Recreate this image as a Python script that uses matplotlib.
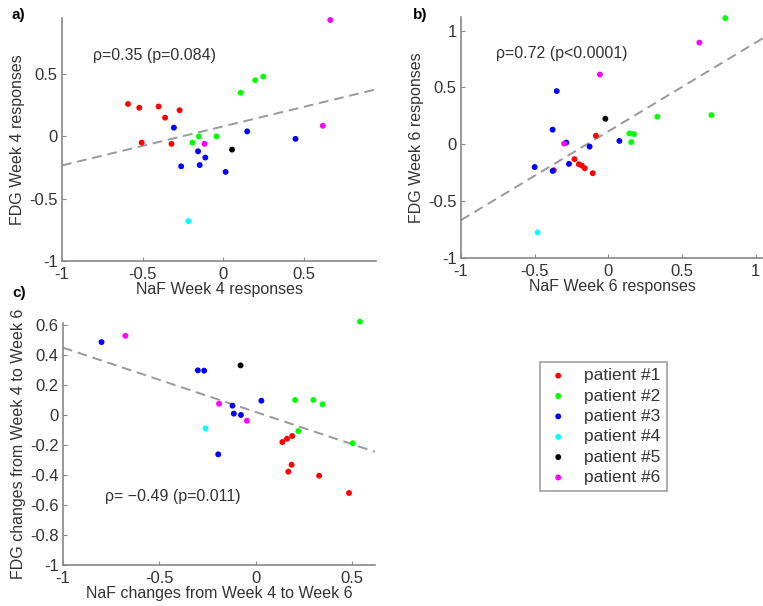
import numpy as np
import matplotlib
matplotlib.use("Agg")
import matplotlib.pyplot as plt

plt.rcParams['font.family'] = ['Liberation Sans', 'DejaVu Sans']

patients = ['patient #1', 'patient #2', 'patient #3', 'patient #4', 'patient #5', 'patient #6']
colors = ['#ff0000', '#00ff00', '#0000ff', '#00ffff', '#000000', '#ff00ff']

# panel a: week 4 responses (x = NaF, y = FDG), grouped by patient
a_x = [[-0.59, -0.52, -0.40, -0.36, -0.27, -0.505, -0.32],
       [0.11, 0.20, 0.25, -0.19, -0.15, -0.04],
       [-0.305, -0.155, -0.11, -0.145, -0.26, 0.016, 0.15, 0.45],
       [-0.215],
       [0.056],
       [-0.115, 0.62, 0.666]]
a_y = [[0.26, 0.23, 0.24, 0.15, 0.21, -0.05, -0.06],
       [0.35, 0.45, 0.48, -0.05, 0.0, 0.0],
       [0.07, -0.12, -0.17, -0.23, -0.24, -0.285, 0.04, -0.02],
       [-0.68],
       [-0.106],
       [-0.06, 0.085, 0.934]]

# panel b: week 6 responses
b_x = [[-0.23, -0.20, -0.18, -0.16, -0.106, -0.084, -0.37],
       [0.794, 0.70, 0.333, 0.143, 0.174, 0.156],
       [-0.35, -0.378, -0.285, -0.127, 0.075, -0.50, -0.378, -0.267],
       [-0.48],
       [-0.02],
       [0.618, -0.057, -0.30]]
b_y = [[-0.13, -0.175, -0.187, -0.21, -0.254, 0.076, -0.228],
       [1.11, 0.257, 0.243, 0.096, 0.09, 0.02],
       [0.468, 0.129, 0.015, -0.02, 0.03, -0.2, -0.234, -0.172],
       [-0.775],
       [0.225],
       [0.895, 0.614, 0.006]]

# panel c: changes from week 4 to week 6
c_x = [[0.139, 0.163, 0.19, 0.187, 0.17, 0.33, 0.485],
       [0.542, 0.205, 0.30, 0.348, 0.222, 0.504],
       [-0.80, -0.30, -0.267, -0.12, -0.113, -0.076, 0.03, -0.194],
       [-0.26],
       [-0.078],
       [-0.676, -0.19, -0.045]]
c_y = [[-0.182, -0.16, -0.142, -0.333, -0.379, -0.406, -0.521],
       [0.619, 0.098, 0.098, 0.069, -0.109, -0.19],
       [0.483, 0.295, 0.293, 0.06, 0.007, -0.002, 0.093, -0.264],
       [-0.091],
       [0.328],
       [0.525, 0.073, -0.04]]

# fitted lines (slope, intercept)
fit_a = (0.313, 0.08)
fit_b = (0.781, 0.114)
fit_c = (-0.428, 0.018)

fig = plt.figure(figsize=(7.63, 6.06), dpi=100)
W, H = 763, 606


def make_ax(l, r, t, b):
    return fig.add_axes([l / W, 1 - b / H, (r - l) / W, (b - t) / H])


def style(ax):
    for s in ['top', 'right']:
        ax.spines[s].set_visible(False)
    for s in ['left', 'bottom']:
        ax.spines[s].set_color('#888888')
        ax.spines[s].set_linewidth(1.2)
    ax.tick_params(direction='in', length=3, color='#888888', labelsize=12,
                   labelcolor='#333333')
    ax.tick_params(axis='x', pad=4)
    ax.tick_params(axis='y', pad=3)


def fmt(v):
    s = ('%.1f' % v).rstrip('0').rstrip('.')
    return '0' if s in ('-0', '0') else s


def draw(ax, xs, ys, fit, xlim, ylim):
    for i in range(len(patients)):
        ax.scatter(xs[i], ys[i], s=18, color=colors[i], edgecolors='none',
                   zorder=3, label=patients[i], clip_on=False)
    xx = np.array(xlim)
    ax.plot(xx, fit[0] * xx + fit[1], ls='--', color='#999999', lw=1.4,
            dashes=(5, 3), zorder=2)
    ax.set_xlim(xlim)
    ax.set_ylim(ylim)
    style(ax)


# a)
ax_a = make_ax(62, 376, 18, 261)
draw(ax_a, a_x, a_y, fit_a, (-1, 0.95), (-1, 0.95))
ax_a.set_xticks([-1, -0.5, 0, 0.5])
ax_a.set_yticks([-1, -0.5, 0, 0.5])
ax_a.set_xticklabels([fmt(v) for v in [-1, -0.5, 0, 0.5]])
ax_a.set_yticklabels([fmt(v) for v in [-1, -0.5, 0, 0.5]])
ax_a.set_xlabel('NaF Week 4 responses', fontsize=11.5, color='#333333', labelpad=0)
ax_a.set_ylabel('FDG Week 4 responses', fontsize=11.5, color='#333333', labelpad=3)
ax_a.text(-0.81, 0.65, 'ρ=0.35 (p=0.084)', fontsize=11.5, color='#333333', va='center')

# b)
ax_b = make_ax(461, 763, 17, 258)
draw(ax_b, b_x, b_y, fit_b, (-1, 1.05), (-1, 1.12))
ax_b.set_xticks([-1, -0.5, 0, 0.5, 1])
ax_b.set_yticks([-1, -0.5, 0, 0.5, 1])
ax_b.set_xticklabels([fmt(v) for v in [-1, -0.5, 0, 0.5, 1]])
ax_b.set_yticklabels([fmt(v) for v in [-1, -0.5, 0, 0.5, 1]])
ax_b.set_xlabel('NaF Week 6 responses', fontsize=11.5, color='#333333', labelpad=0)
ax_b.set_ylabel('FDG Week 6 responses', fontsize=11.5, color='#333333', labelpad=3)
ax_b.text(-0.76, 0.8, 'ρ=0.72 (p<0.0001)', fontsize=11.5, color='#333333', va='center')

# c)
ax_c = make_ax(63, 375, 323, 565)
draw(ax_c, c_x, c_y, fit_c, (-1, 0.62), (-1, 0.61))
cy = [-1, -0.8, -0.6, -0.4, -0.2, 0, 0.2, 0.4, 0.6]
ax_c.set_xticks([-1, -0.5, 0, 0.5])
ax_c.set_xticklabels([fmt(v) for v in [-1, -0.5, 0, 0.5]])
ax_c.set_yticks(cy)
ax_c.set_yticklabels([fmt(v) for v in cy])
ax_c.set_xlabel('NaF changes from Week 4 to Week 6', fontsize=11.5, color='#333333', labelpad=0)
ax_c.set_ylabel('FDG changes from Week 4 to Week 6', fontsize=11.5, color='#333333', labelpad=3)
ax_c.text(-0.78, -0.545, 'ρ= \u22120.49 (p=0.011)', fontsize=11.5, color='#333333', va='center')

# panel letters
fig.text(12 / W, 1 - 15 / H, 'a)', fontsize=11, fontweight='bold', va='center')
fig.text(413 / W, 1 - 15 / H, 'b)', fontsize=11, fontweight='bold', va='center')
fig.text(12 / W, 1 - 293 / H, 'c)', fontsize=11, fontweight='bold', va='center')

# legend
handles, labels = ax_a.get_legend_handles_labels()
leg = fig.legend(handles, labels, loc='upper left',
                 bbox_to_anchor=(540 / W, 1 - 362 / H), frameon=True,
                 fontsize=12.5, markerscale=1.0, handletextpad=0.8,
                 labelspacing=0.3, borderpad=0.35, fancybox=False,
                 handlelength=1.4, borderaxespad=0)
leg.get_frame().set_edgecolor('#888888')
leg.get_frame().set_linewidth(1.2)
for t in leg.get_texts():
    t.set_color('#333333')

fig.savefig('out.png', dpi=100)
